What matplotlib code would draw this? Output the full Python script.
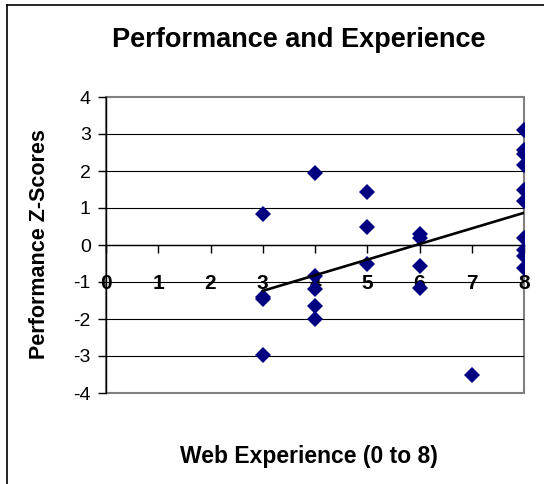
import numpy as np
import matplotlib.pyplot as plt
from matplotlib.lines import Line2D
from matplotlib.patches import Rectangle

plt.rcParams['font.family'] = ['Liberation Sans', 'DejaVu Sans']

# ---------------------------------------------------
# data
experience = [3, 3, 3, 3,
              4, 4, 4, 4, 4,
              5, 5, 5,
              6, 6, 6, 6,
              7,
              8, 8, 8, 8, 8, 8, 8, 8, 8, 8]
z_scores = [0.83, -1.40, -1.45, -2.98,
            1.95, -0.85, -1.18, -1.66, -2.00,
            1.42, 0.48, -0.50,
            0.29, 0.20, -0.58, -1.16,
            -3.52,
            3.12, 2.58, 2.45, 2.15, 1.50, 1.18, 0.19, -0.14, -0.31, -0.63]

trend_x = [3, 8]
trend_y = [-1.24, 0.87]

x_ticks = [0, 1, 2, 3, 4, 5, 6, 7, 8]
y_ticks = [-4, -3, -2, -1, 0, 1, 2, 3, 4]

# ---------------------------------------------------
W, H = 544, 484
fig = plt.figure(figsize=(W / 100, H / 100), dpi=100)
ax = fig.add_axes([106 / W, 1 - 393 / H, (524 - 106) / W, (393 - 97) / H])

ax.set_xlim(0, 8)
ax.set_ylim(-4, 4)

# grid lines
for v in y_ticks[1:-1]:
    ax.axhline(v, color='black', lw=0.8, zorder=1)

# plot-area border (grey)
ax.add_patch(Rectangle((0, 0), 1, 1, transform=ax.transAxes, fill=False,
                       ec='#808080', lw=1.5, zorder=0.5, clip_on=False))

ax.plot(experience, z_scores, 'D', color='#000080', markersize=8.3,
        markeredgewidth=0, zorder=3)
ax.plot(trend_x, trend_y, color='black', lw=1.9, zorder=4)

# axes
for s in ['top', 'right']:
    ax.spines[s].set_visible(False)
ax.spines['left'].set_color('black')
ax.spines['left'].set_linewidth(1.0)
ax.spines['bottom'].set_position(('data', 0))
ax.spines['bottom'].set_color('black')
ax.spines['bottom'].set_linewidth(1.0)

ax.set_xticks(x_ticks)
ax.set_yticks(y_ticks)
ax.set_xticklabels([str(v) for v in x_ticks], fontsize=15, fontweight='bold')
ax.set_yticklabels([str(v) for v in y_ticks], fontsize=14)
ax.tick_params(axis='x', direction='out', length=6, width=1, pad=15)
ax.tick_params(axis='y', direction='out', length=6, width=1, pad=5)

# titles
fig.text(299 / W, 1 - 47 / H, 'Performance and Experience', fontsize=19.5,
         fontweight='bold', ha='center', va='baseline')
fig.text(309 / W, 1 - 463 / H, 'Web Experience (0 to 8)', fontsize=16.5,
         fontweight='bold', ha='center', va='baseline')
fig.text(50 / W, 1 - 244 / H, 'Performance Z-Scores', fontsize=15.5,
         fontweight='bold', rotation=90, ha='right', va='center')

# outer chart frame (left and top only visible)
fig.add_artist(Line2D([7 / W, 7 / W], [0, 1 - 4.5 / H], color='black', lw=1.2))
fig.add_artist(Line2D([7 / W, 1], [1 - 4.5 / H, 1 - 4.5 / H], color='black', lw=1.2))

fig.savefig('out.png', dpi=100)
